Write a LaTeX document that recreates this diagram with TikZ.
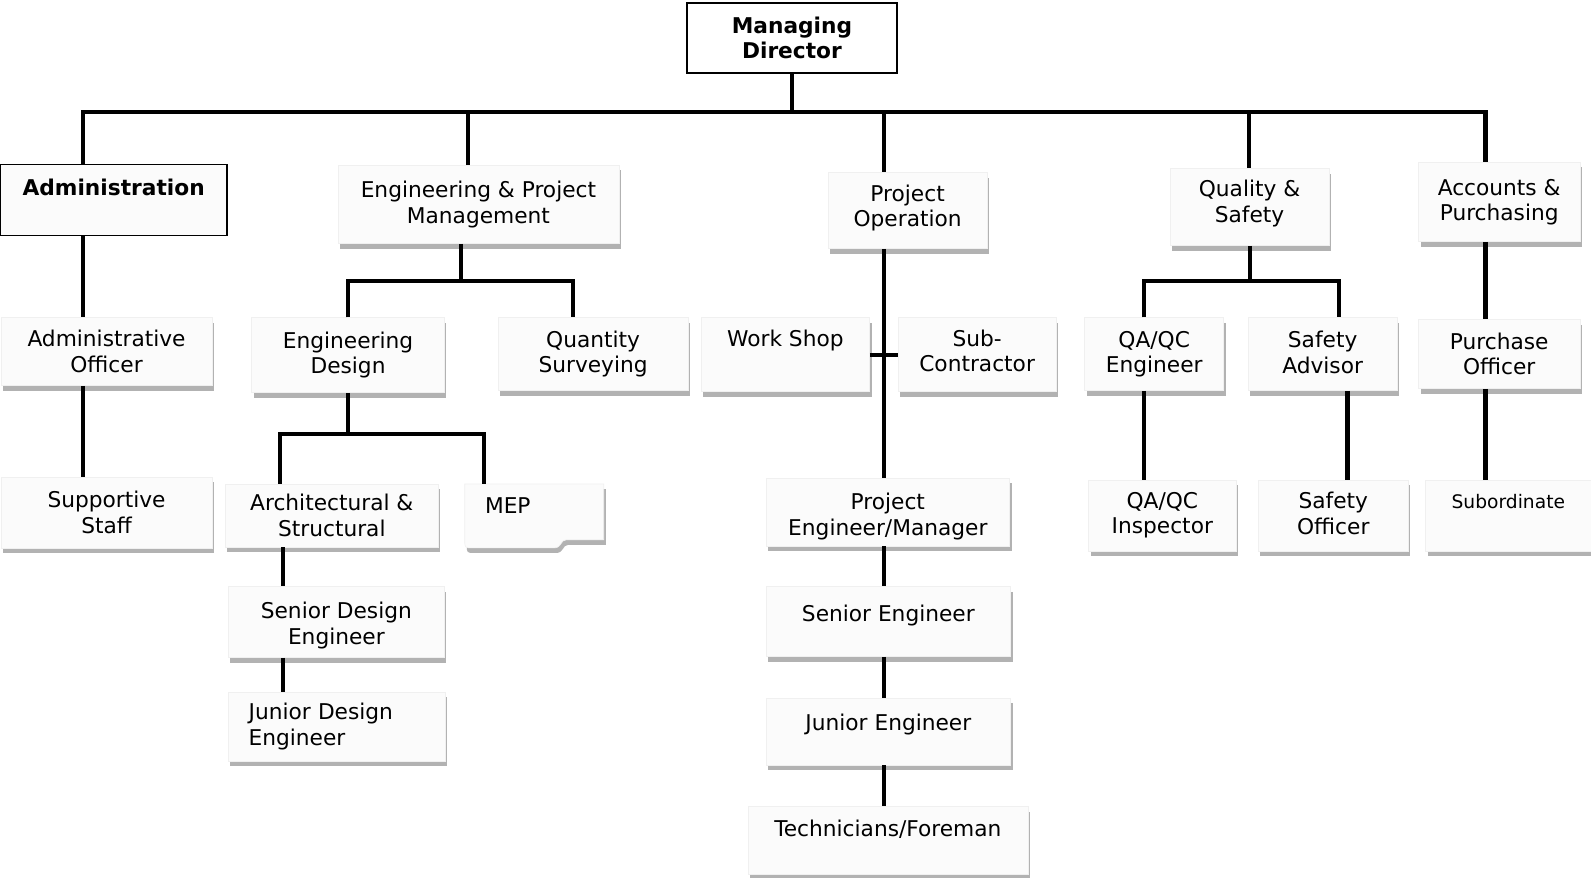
\documentclass[tikz,border=0pt]{standalone}
\usepackage{fontspec}
\setmainfont{DejaVu Sans}
\usetikzlibrary{shadows}

\begin{document}
\begin{tikzpicture}[x=0.5pt, y=-0.5pt,
    font=\fontsize{10.7}{12.5}\selectfont,
    wh/.style 2 args={minimum width=#1*0.5pt, minimum height=#2*0.5pt},
    box/.style={fill=gray!3, draw=gray!12, line width=0.3pt, align=center, inner sep=0pt,
      drop shadow={shadow xshift=1pt, shadow yshift=-2.5pt, opacity=0.5, fill=black!60}},
    headbox/.style={draw=black, line width=0.8pt, align=center, inner sep=0pt,
      font=\fontsize{10.7}{12.5}\selectfont\bfseries},
    oneline/.style={text depth=#1},
    oneline/.default=15pt,
    link/.style={line width=2pt}]
    \useasboundingbox (0,0) rectangle (1568,865);

    % top
    \node [headbox, wh={207}{69}, fill=white] (md) at (780.5, 37.5) {Managing\\Director};
    \node [headbox, wh={224}{70}, fill=gray!3, oneline=12pt] (adm) at (112, 197) {Administration};
    \node [box, wh={277}{77}] (epm) at (471.5, 201.5) {Engineering \& Project\\Management};
    \node [box, wh={157}{75}, text depth=4.5pt] (po) at (894.5, 207.5) {Project\\Operation};
    \node [box, wh={157}{76}, text depth=5.5pt] (qs) at (1231.5, 204) {Quality \&\\Safety};
    \node [box, wh={159}{78}] (ap) at (1477.5, 199) {Accounts \&\\Purchasing};

    % second row
    \node [box, wh={208}{67}] (ao) at (105, 346.5) {Administrative\\Officer};
    \node [box, wh={190}{74}] (ed) at (343, 350) {Engineering\\Design};
    \node [box, wh={187}{72}] (qsv) at (584.5, 349) {Quantity\\Surveying};
    \node [box, wh={166}{73}, oneline=16pt] (ws) at (774, 349.5) {Work Shop};
    \node [box, wh={156}{73}, text depth=4pt] (sc) at (963, 349.5) {Sub-\\Contractor};
    \node [box, wh={137}{72}] (qae) at (1137.5, 349) {QA/QC\\Engineer};
    \node [box, wh={147}{72}, text depth=2pt] (sa) at (1303.5, 349) {Safety\\Advisor};
    \node [box, wh={159}{68}] (puo) at (1477.5, 349) {Purchase\\Officer};

    % third row
    \node [box, wh={208}{70}] (ss) at (105, 505) {Supportive\\Staff};
    \node [box, wh={210}{62}] (as) at (327, 508) {Architectural \&\\Structural};
    \path [box] (458,477) -- (595,477) -- (595,532) -- (558,532)
      .. controls (552,532) and (554,540) .. (546,540) -- (466,540)
      .. controls (458,540) and (458,540) .. (458,532) -- cycle;
    \node [wh={137}{63}, inner sep=0pt, oneline=10pt, text width=48.5pt, align=left] (mep) at (526.5, 508.5) {MEP};
    \node [box, wh={240}{67}, text height=23pt, text depth=0pt] (pe) at (875, 504.5) {Project\\Engineer/Manager};
    \node [box, wh={145}{70}] (qai) at (1145.5, 508) {QA/QC\\Inspector};
    \node [box, wh={148}{70}, text depth=2pt] (so) at (1314, 508) {Safety\\Officer};
    \node [box, wh={163}{70}, oneline=14pt, font=\fontsize{9.2}{11}\selectfont] (sub) at (1486.5, 508) {Subordinate};

    % lower rows
    \node [box, wh={213}{70}, text height=22pt, text depth=0pt] (sde) at (331.5, 613) {Senior Design\\Engineer};
    \node [box, wh={214}{68}, text width=87pt, align=left] (jde) at (332, 716) {Junior Design\\Engineer};
    \node [box, wh={241}{69}, oneline=8pt] (se) at (875.5, 612.5) {Senior Engineer};
    \node [box, wh={241}{66}, oneline=9pt] (je) at (875.5, 721) {Junior Engineer};
    \node [box, wh={276}{67}, oneline=12pt] (tf) at (875, 828.5) {Technicians/Foreman};

    % bus
    \coordinate (bus) at (780, 110);
    \coordinate (b-adm) at (82, 110);
    \coordinate (b-epm) at (461, 110);
    \coordinate (b-po) at (871, 110);
    \coordinate (b-qs) at (1231, 110);
    \coordinate (b-ap) at (1464, 110);
    \draw [link] (md.south) -- (md.south |- bus);
    \draw [link] (b-adm |- adm.north) -- (b-adm) -- (b-ap) -- (b-ap |- ap.north);
    \draw [link] (b-epm) -- (b-epm |- epm.north);
    \draw [link] (b-po) -- (b-po |- po.north);
    \draw [link] (b-qs) -- (b-qs |- qs.north);

    % administration
    \draw [link] (b-adm |- adm.south) -- (b-adm |- ao.north);
    \draw [link] (b-adm |- ao.south) -- (b-adm |- ss.north);

    % engineering
    \coordinate (j-epm) at (454, 277);
    \coordinate (j-qsv) at (565, 277);
    \draw [link] (j-epm |- epm.south) -- (j-epm);
    \draw [link] (ed.north) |- (j-qsv) -- (j-qsv |- qsv.north);
    \coordinate (j-as) at (276, 428);
    \coordinate (j-mep) at (477, 428);
    \draw [link] (ed.south) -- (ed.south |- j-as);
    \draw [link] (j-as |- as.north) -- (j-as) -- (j-mep) -- (j-mep |- mep.north);
    \draw [link] (as.south -| 279,0) -- (sde.north -| 279,0);
    \draw [link] (sde.south -| 279,0) -- (jde.north -| 279,0);

    % project operation
    \draw [link] (po.south -| 871,0) -- (pe.north -| 871,0);
    \draw [link] (ws.east) -- (sc.west);
    \draw [link] (pe.south -| 871,0) -- (se.north -| 871,0);
    \draw [link] (se.south -| 871,0) -- (je.north -| 871,0);
    \draw [link] (je.south -| 871,0) -- (tf.north -| 871,0);

    % quality
    \coordinate (j-qae) at (1127, 277);
    \coordinate (j-sa) at (1320, 277);
    \draw [link] (qs.south) -- (qs.south |- j-qae);
    \draw [link] (j-qae |- qae.north) -- (j-qae) -- (j-sa) -- (j-sa |- sa.north);
    \draw [link] (qae.south -| 1127,0) -- (qai.north -| 1127,0);
    \draw [link] (sa.south -| 1328,0) -- (so.north -| 1328,0);

    % accounts
    \draw [link] (b-ap |- ap.south) -- (b-ap |- puo.north);
    \draw [link] (b-ap |- puo.south) -- (b-ap |- sub.north);
\end{tikzpicture}
\end{document}
